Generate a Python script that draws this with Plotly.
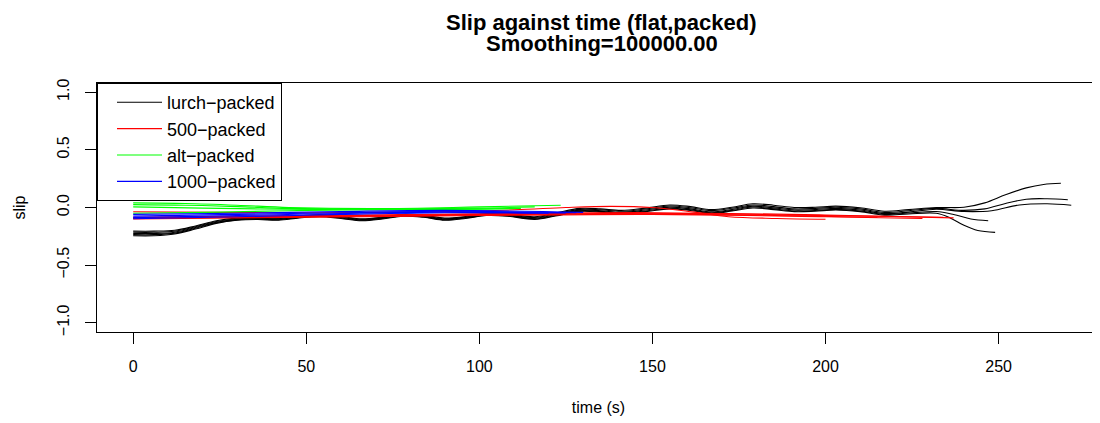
import plotly.graph_objects as go

# ---------------- data ----------------
series_names = ["lurch−packed", "500−packed", "alt−packed", "1000−packed"]
series_colors = ["#000000", "#FF0000", "#00FF00", "#0000FF"]

x_ticks = [0, 50, 100, 150, 200, 250]
y_ticks = [-1.0, -0.5, 0.0, 0.5, 1.0]
y_tick_labels = ["−1.0", "−0.5", "0.0", "0.5", "1.0"]

# lurch-packed runs (black)
lurch_grid = [0, 6, 12, 18, 24, 30, 36, 42, 48, 54, 60, 66, 72, 78, 84, 90, 96, 102, 108,
              116, 122, 129, 135, 141, 148, 155, 161, 167, 173, 179, 185, 191, 197, 203,
              210, 217, 224, 232]
lurch_a_slip = [-0.205, -0.205, -0.198, -0.16, -0.115, -0.092, -0.088, -0.092, -0.072, -0.063,
                -0.078, -0.097, -0.083, -0.058, -0.068, -0.092, -0.078, -0.053, -0.058, -0.08,
                -0.048, -0.008, -0.012, -0.025, -0.005, 0.022, 0.008, -0.018, 0.002, 0.032,
                0.02, 0.0, 0.002, 0.012, -0.002, -0.032, -0.018, 0.0]
lurch_a_tail_t = [240, 246, 252, 258, 263, 268]
lurch_a_tail_s = [0.002, 0.04, 0.11, 0.17, 0.2, 0.21]
lurch_b_slip = [-0.215, -0.215, -0.206, -0.167, -0.122, -0.098, -0.093, -0.098, -0.078, -0.068,
                -0.083, -0.103, -0.088, -0.063, -0.073, -0.098, -0.083, -0.058, -0.063, -0.087,
                -0.056, -0.016, -0.02, -0.033, -0.013, 0.013, -0.002, -0.027, -0.007, 0.022,
                0.008, -0.012, -0.008, 0.002, -0.012, -0.042, -0.028, -0.008]
lurch_b_tail_t = [240, 246, 252, 258, 264, 270]
lurch_b_tail_s = [-0.025, -0.012, 0.035, 0.072, 0.076, 0.067]
lurch_c_slip = [-0.225, -0.225, -0.214, -0.174, -0.128, -0.103, -0.097, -0.102, -0.082, -0.072,
                -0.087, -0.107, -0.092, -0.067, -0.077, -0.102, -0.087, -0.062, -0.067, -0.093,
                -0.063, -0.023, -0.028, -0.042, -0.022, 0.003, -0.012, -0.037, -0.017, 0.012,
                -0.003, -0.022, -0.018, -0.008, -0.022, -0.052, -0.04, -0.015]
lurch_c_tail_t = [240, 248, 256, 264, 271]
lurch_c_tail_s = [-0.035, -0.028, 0.022, 0.033, 0.02]
lurch_d_slip = [-0.235, -0.235, -0.222, -0.18, -0.133, -0.107, -0.1, -0.106, -0.086, -0.076,
                -0.091, -0.111, -0.096, -0.071, -0.081, -0.106, -0.091, -0.066, -0.071, -0.098,
                -0.069, -0.029, -0.034, -0.05, -0.03, -0.006, -0.02, -0.045, -0.025, 0.004,
                -0.012, -0.03, -0.026, -0.016, -0.03, -0.06, -0.048, -0.035]
lurch_d_tail_t = [237, 242, 247]
lurch_d_tail_s = [-0.06, -0.1, -0.115]
lurch_e_slip = [-0.245, -0.245, -0.23, -0.187, -0.138, -0.111, -0.104, -0.11, -0.09, -0.08,
                -0.095, -0.115, -0.1, -0.075, -0.085, -0.11, -0.095, -0.07, -0.075, -0.103,
                -0.074, -0.034, -0.04, -0.056, -0.036, -0.012, -0.026, -0.051, -0.031, -0.004,
                -0.018, -0.036, -0.032, -0.022, -0.036, -0.066, -0.056, -0.05]
lurch_e_tail_t = [236, 240, 244, 249]
lurch_e_tail_s = [-0.09, -0.155, -0.2, -0.216]

# 500-packed runs (red)
r500_1_t = [0, 40, 80, 110, 125, 138, 150, 162, 172, 186, 200]
r500_1_s = [-0.037, -0.045, -0.04, -0.02, 0.0, 0.01, 0.0, -0.04, -0.08, -0.095, -0.102]
r500_2_t = [0, 50, 100, 150, 200, 237]
r500_2_s = [-0.085, -0.07, -0.055, -0.045, -0.065, -0.09]
r500_3_t = [0, 50, 100, 150, 200, 234]
r500_3_s = [-0.095, -0.08, -0.065, -0.05, -0.07, -0.085]
r500_4_t = [0, 50, 100, 150, 200, 228]
r500_4_s = [-0.1, -0.085, -0.07, -0.06, -0.08, -0.095]
r500_5_t = [0, 50, 100, 150, 215]
r500_5_s = [-0.09, -0.075, -0.06, -0.055, -0.085]

# alt-packed runs (green)
alt_1_t = [0, 15, 30, 45, 70, 100, 123.5]
alt_1_s = [0.04, 0.035, 0.02, 0.0, -0.01, 0.005, 0.02]
alt_2_t = [0, 15, 30, 45, 70, 100, 116]
alt_2_s = [0.025, 0.02, 0.008, -0.008, -0.012, -0.005, 0.005]
alt_3_t = [0, 20, 45, 70, 100, 112]
alt_3_s = [0.005, -0.005, -0.015, -0.015, -0.012, -0.008]
alt_4_t = [0, 25, 50, 75, 100, 110]
alt_4_s = [-0.05, -0.04, -0.025, -0.02, -0.015, -0.01]

# 1000-packed runs (blue)
k1000_1_t = [0, 30, 60, 90, 130]
k1000_1_s = [-0.06, -0.05, -0.035, -0.025, -0.042]
k1000_2_t = [0, 30, 60, 90, 128]
k1000_2_s = [-0.075, -0.06, -0.045, -0.033, -0.045]
k1000_3_t = [0, 30, 60, 90, 125]
k1000_3_s = [-0.088, -0.07, -0.052, -0.04, -0.048]
k1000_4_t = [0, 30, 60, 90, 120]
k1000_4_s = [-0.097, -0.08, -0.06, -0.045, -0.05]

runs = [
    (0, lurch_grid + lurch_a_tail_t, lurch_a_slip + lurch_a_tail_s),
    (0, lurch_grid + lurch_b_tail_t, lurch_b_slip + lurch_b_tail_s),
    (0, lurch_grid + lurch_c_tail_t, lurch_c_slip + lurch_c_tail_s),
    (0, lurch_grid + lurch_d_tail_t, lurch_d_slip + lurch_d_tail_s),
    (0, lurch_grid + lurch_e_tail_t, lurch_e_slip + lurch_e_tail_s),
    (1, r500_1_t, r500_1_s),
    (1, r500_2_t, r500_2_s),
    (1, r500_3_t, r500_3_s),
    (1, r500_4_t, r500_4_s),
    (1, r500_5_t, r500_5_s),
    (2, alt_1_t, alt_1_s),
    (2, alt_2_t, alt_2_s),
    (2, alt_3_t, alt_3_s),
    (2, alt_4_t, alt_4_s),
    (3, k1000_1_t, k1000_1_s),
    (3, k1000_2_t, k1000_2_s),
    (3, k1000_3_t, k1000_3_s),
    (3, k1000_4_t, k1000_4_s),
]

# ---------------- figure ----------------
# the page body has an 8px margin, so the figure is 8px smaller than the window
FONT = "Liberation Sans, Arial, sans-serif"
FIG_W, FIG_H = 1092, 415
PLOT_TOP, PLOT_BOTTOM = 75, 324
PLOT_H = PLOT_BOTTOM - PLOT_TOP

fig = go.Figure()
seen = set()
for idx, t, s in runs:
    fig.add_trace(go.Scatter(
        x=t, y=s, mode="lines",
        line=dict(color=series_colors[idx], width=1.1, shape="spline", smoothing=1.0),
        name=series_names[idx], legendgroup=series_names[idx],
        showlegend=idx not in seen, legendrank=idx + 1,
    ))
    seen.add(idx)

fig.update_layout(
    width=FIG_W, height=FIG_H,
    margin=dict(l=89, r=0, t=PLOT_TOP, b=FIG_H - PLOT_BOTTOM, pad=0, autoexpand=False),
    paper_bgcolor="white", plot_bgcolor="white",
    font=dict(family=FONT, size=16, color="#000000"),
    showlegend=True,
    legend=dict(
        x=0, y=1, xanchor="left", yanchor="top",
        bgcolor="white", bordercolor="#000000", borderwidth=1,
        font=dict(size=18), indentation=14, itemwidth=45, traceorder="normal",
    ),
    annotations=[
        dict(text="<b>Slip against time (flat,packed)</b>", xref="paper", yref="paper",
             x=0.503, y=(PLOT_BOTTOM - 14.5) / PLOT_H, xanchor="center", yanchor="middle",
             showarrow=False, font=dict(size=22)),
        dict(text="<b>Smoothing=100000.00</b>", xref="paper", yref="paper",
             x=0.503, y=(PLOT_BOTTOM - 35) / PLOT_H, xanchor="center", yanchor="middle",
             showarrow=False, font=dict(size=22)),
    ],
)
fig.update_xaxes(
    range=[-10.46, 279.3], tickvals=x_ticks, ticks="outside", ticklen=11, tickcolor="#000000",
    showline=True, linecolor="#000000", linewidth=1, mirror=True,
    showgrid=False, zeroline=False, ticklabelstandoff=9, automargin=False,
    tickfont=dict(size=16),
    title=dict(text="time (s)", standoff=27, font=dict(size=16)),
)
fig.update_yaxes(
    range=[-1.08, 1.08], tickvals=y_ticks, ticktext=y_tick_labels, tickangle=-90,
    ticks="outside", ticklen=11, tickcolor="#000000",
    showline=True, linecolor="#000000", linewidth=1, mirror=False,
    showgrid=False, zeroline=False, ticklabelstandoff=10, automargin=False,
    tickfont=dict(size=16),
    title=dict(text="slip", standoff=24, font=dict(size=16)),
)
fig.write_html("out.html")
